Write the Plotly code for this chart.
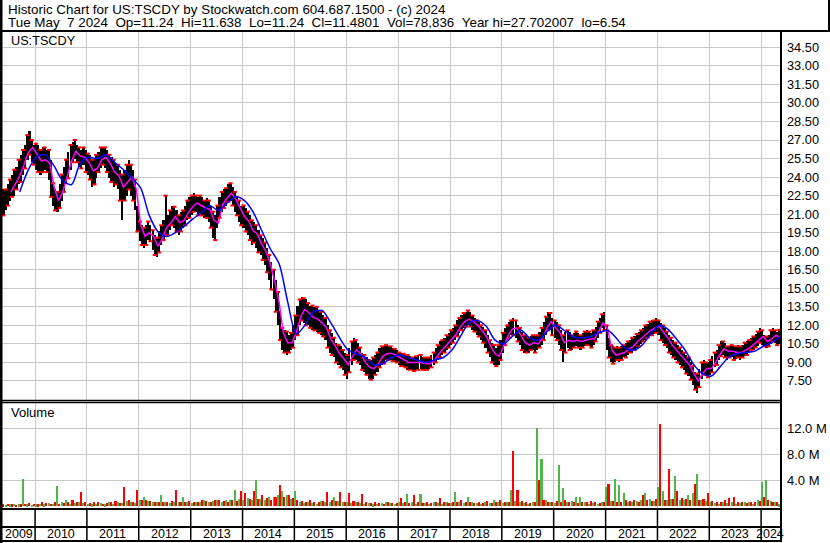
import plotly.graph_objects as go
import pandas as pd

W, H = 830, 543

# ---------------- data ----------------
# half-month high / low bands (2009-05 .. 2024-05)
hi_2009 = [22.5, 23.0, 23.0, 23.4, 23.8, 24.2, 24.6, 24.8, 25.4, 25.8, 26.2, 26.6, 27.4, 27.7, 27.0, 26.6]
lo_2009 = [19.9, 20.9, 21.3, 21.7, 22.1, 22.4, 22.5, 23.0, 23.4, 23.6, 24.2, 24.7, 25.4, 25.8, 25.2, 25.0]
hi_2010 = [26.7, 26.6, 26.2, 26.4, 26.4, 26.2, 26.2, 25.4, 23.5, 23.0, 22.8, 23.4, 24.2, 24.8, 25.4, 26.0, 26.6, 26.8, 27.0, 26.6, 26.4, 26.2, 26.4, 26.2]
lo_2010 = [24.6, 24.4, 24.2, 24.4, 24.6, 24.4, 23.8, 22.4, 21.7, 21.3, 21.2, 21.5, 22.1, 22.8, 23.4, 23.9, 24.6, 25.2, 25.5, 25.2, 24.8, 24.7, 25.0, 24.4]
hi_2011 = [25.9, 25.8, 25.4, 25.5, 25.8, 26.0, 26.4, 26.4, 26.4, 26.2, 25.8, 25.6, 25.4, 25.1, 25.0, 24.6, 24.2, 24.6, 25.0, 25.4, 25.0, 24.6, 23.8, 21.7]
lo_2011 = [24.2, 23.8, 23.2, 23.4, 23.9, 24.4, 24.7, 25.0, 24.7, 24.4, 23.9, 23.6, 23.2, 23.4, 23.0, 22.1, 20.5, 22.1, 22.5, 23.0, 22.5, 22.1, 21.3, 19.6]
hi_2012 = [20.4, 20.1, 19.9, 20.1, 20.4, 20.1, 19.7, 19.3, 19.1, 19.6, 20.1, 20.5, 22.5, 20.9, 21.3, 21.7, 21.6, 21.3, 20.9, 21.2, 21.3, 21.7, 22.1, 22.4]
lo_2012 = [18.8, 18.5, 18.3, 18.5, 18.9, 18.8, 18.1, 17.7, 17.5, 17.9, 18.5, 18.9, 19.3, 19.3, 19.7, 20.1, 19.9, 19.6, 19.3, 19.6, 19.9, 20.1, 20.5, 20.7]
hi_2013 = [22.5, 22.7, 22.5, 22.4, 22.5, 22.4, 22.1, 22.3, 22.1, 21.7, 21.2, 20.9, 21.7, 22.4, 22.8, 23.0, 23.1, 23.4, 23.5, 23.2, 22.8, 22.5, 22.1, 21.7]
lo_2013 = [20.9, 21.2, 21.2, 20.9, 21.1, 20.9, 20.7, 20.7, 20.4, 19.9, 19.1, 18.9, 19.9, 20.7, 21.2, 21.5, 21.7, 22.0, 22.1, 21.7, 21.2, 20.9, 20.4, 20.1]
hi_2014 = [21.7, 21.5, 21.2, 20.9, 20.5, 20.4, 20.1, 19.7, 19.3, 19.1, 18.7, 18.3, 17.7, 17.1, 16.5, 15.7, 14.7, 13.2, 11.8, 11.6, 11.5, 11.2, 11.4, 12.0]
lo_2014 = [19.9, 19.6, 19.3, 18.9, 18.5, 18.7, 18.3, 17.9, 17.7, 17.3, 16.9, 16.3, 15.7, 14.9, 14.1, 13.1, 12.0, 10.8, 10.0, 9.8, 9.6, 9.8, 10.0, 10.2]
hi_2015 = [12.8, 13.6, 14.1, 14.3, 14.2, 14.1, 13.8, 13.6, 13.6, 13.5, 13.5, 13.2, 13.1, 12.8, 12.6, 12.0, 11.6, 11.4, 11.0, 10.6, 10.4, 10.3, 10.0, 9.8]
lo_2015 = [10.8, 11.2, 12.0, 12.4, 12.2, 12.0, 12.0, 11.8, 11.6, 11.6, 11.5, 11.4, 11.2, 11.1, 10.8, 10.2, 9.8, 9.6, 9.4, 9.0, 8.8, 8.6, 8.4, 8.0]
hi_2016 = [9.6, 10.2, 10.7, 11.0, 10.8, 10.6, 10.2, 9.8, 9.6, 9.4, 9.2, 9.2, 9.4, 9.6, 9.8, 10.2, 10.3, 10.3, 10.4, 10.3, 10.3, 10.2, 10.1, 10.0]
lo_2016 = [7.7, 8.2, 8.8, 9.2, 9.2, 9.0, 8.8, 8.4, 8.2, 8.0, 7.7, 7.6, 7.7, 8.0, 8.2, 8.6, 8.8, 8.9, 9.2, 9.2, 9.2, 9.1, 9.0, 9.0]
hi_2017 = [9.8, 9.8, 9.7, 9.6, 9.6, 9.5, 9.4, 9.4, 9.5, 9.6, 9.6, 9.4, 9.4, 9.4, 9.4, 9.6, 9.8, 10.2, 10.4, 10.7, 10.8, 11.0, 11.2, 11.4]
lo_2017 = [8.8, 8.7, 8.6, 8.6, 8.4, 8.4, 8.4, 8.3, 8.4, 8.4, 8.5, 8.4, 8.3, 8.4, 8.5, 8.6, 8.8, 9.0, 9.2, 9.4, 9.6, 9.8, 10.0, 10.2]
hi_2018 = [11.6, 11.8, 12.0, 12.4, 12.6, 12.8, 13.0, 13.1, 13.2, 13.1, 12.8, 12.6, 12.4, 12.3, 12.0, 11.9, 11.6, 11.2, 10.8, 10.6, 10.4, 10.2, 10.4, 10.8]
lo_2018 = [10.4, 10.6, 10.8, 11.1, 11.4, 11.6, 11.8, 11.9, 12.0, 11.9, 11.6, 11.5, 11.2, 11.1, 10.8, 10.6, 10.2, 9.8, 9.4, 9.0, 8.8, 8.7, 8.8, 9.2]
hi_2019 = [11.4, 11.8, 12.0, 12.3, 12.4, 12.6, 12.4, 12.0, 11.8, 11.5, 11.2, 11.1, 11.0, 11.1, 11.2, 11.1, 11.2, 11.5, 11.8, 12.3, 12.7, 13.1, 13.0, 12.6]
lo_2019 = [9.8, 10.4, 10.8, 11.0, 11.2, 11.2, 11.0, 10.7, 10.4, 10.0, 9.8, 9.8, 9.8, 10.0, 10.0, 9.8, 10.0, 10.2, 10.4, 10.8, 11.2, 11.6, 11.6, 11.2]
hi_2020 = [12.4, 12.3, 12.0, 11.6, 11.2, 11.5, 11.6, 11.5, 11.2, 11.4, 11.5, 11.4, 11.2, 11.4, 11.5, 11.6, 11.5, 11.4, 11.6, 11.9, 12.3, 12.6, 12.9, 13.1]
lo_2020 = [11.0, 10.8, 10.4, 10.0, 9.0, 9.8, 10.2, 10.0, 10.0, 10.2, 10.3, 10.2, 10.0, 10.2, 10.3, 10.4, 10.3, 10.2, 10.4, 10.7, 11.0, 11.4, 11.8, 11.6]
hi_2021 = [12.0, 11.0, 10.4, 10.3, 10.2, 10.3, 10.2, 10.3, 10.4, 10.6, 10.7, 10.8, 11.0, 11.1, 11.3, 11.5, 11.6, 11.8, 12.0, 12.1, 12.3, 12.4, 12.4, 12.6]
lo_2021 = [10.0, 9.4, 9.0, 8.9, 9.0, 9.2, 9.0, 9.2, 9.4, 9.4, 9.6, 9.8, 9.8, 10.0, 10.2, 10.3, 10.5, 10.7, 10.8, 11.0, 11.1, 11.2, 11.3, 11.4]
hi_2022 = [12.4, 12.2, 12.0, 11.8, 11.5, 11.2, 11.0, 10.8, 10.6, 10.4, 10.2, 10.0, 9.8, 9.6, 9.4, 9.0, 8.7, 8.2, 8.1, 8.5, 9.0, 9.2, 9.0, 9.0]
lo_2022 = [11.2, 10.8, 10.6, 10.4, 10.2, 9.8, 9.6, 9.4, 9.2, 9.0, 8.8, 8.6, 8.4, 8.1, 7.9, 7.6, 7.2, 6.8, 6.54, 7.0, 7.7, 8.0, 7.9, 7.8]
hi_2023 = [9.2, 9.5, 9.8, 10.0, 10.4, 10.7, 10.7, 10.6, 10.3, 10.3, 10.4, 10.3, 10.3, 10.4, 10.3, 10.4, 10.6, 10.7, 10.8, 11.0, 11.1, 11.3, 11.5, 11.8]
lo_2023 = [8.0, 8.2, 8.6, 8.8, 9.2, 9.5, 9.6, 9.4, 9.2, 9.4, 9.4, 9.2, 9.3, 9.4, 9.2, 9.4, 9.5, 9.6, 9.8, 10.0, 10.0, 10.2, 10.3, 10.6]
hi_2024 = [11.6, 11.2, 11.1, 11.2, 11.6, 11.8, 11.6, 11.5, 11.64]
lo_2024 = [10.4, 10.3, 10.2, 10.3, 10.5, 10.7, 10.6, 10.4, 10.5]

hi = (hi_2009 + hi_2010 + hi_2011 + hi_2012 + hi_2013 + hi_2014 + hi_2015 + hi_2016
      + hi_2017 + hi_2018 + hi_2019 + hi_2020 + hi_2021 + hi_2022 + hi_2023 + hi_2024)
lo = (lo_2009 + lo_2010 + lo_2011 + lo_2012 + lo_2013 + lo_2014 + lo_2015 + lo_2016
      + lo_2017 + lo_2018 + lo_2019 + lo_2020 + lo_2021 + lo_2022 + lo_2023 + lo_2024)

# fast (magenta) moving average, monthly from 2009-07
ma_fast = [22.8, 23.4, 24.1, 25.0, 26.0, 26.4,
           25.8, 25.3, 25.4, 25.1, 23.2, 22.1, 22.8, 24.1, 25.3, 26.1, 25.7, 25.6,
           25.2, 24.5, 24.7, 25.4, 25.6, 25.1, 24.4, 24.1, 23.2, 23.6, 24.0, 23.0,
           20.1, 19.2, 19.5, 19.2, 18.4, 19.0, 19.9, 20.3, 20.8, 20.3, 20.5, 21.1,
           21.6, 21.9, 21.7, 21.5, 21.4, 20.5, 20.3, 21.8, 22.3, 22.7, 22.2, 21.5,
           20.8, 20.4, 19.7, 19.4, 18.6, 18.0, 17.0, 15.6, 13.9, 11.4, 10.6, 10.6,
           11.4, 12.7, 13.3, 13.0, 12.65, 12.5, 12.2, 11.8, 10.9, 10.35, 9.7, 9.3,
           8.8, 9.5, 10.05, 9.65, 9.0, 8.6, 8.5, 8.9, 9.5, 9.7, 9.75, 9.6,
           9.4, 9.2, 9.0, 9.0, 9.0, 9.0, 8.9, 8.9, 9.2, 9.7, 10.1, 10.5,
           10.9, 11.3, 11.9, 12.3, 12.5, 12.3, 12.0, 11.5, 11.1, 10.3, 9.7, 9.5,
           10.3, 11.2, 11.7, 11.8, 11.2, 10.6, 10.4, 10.6, 10.5, 11.0, 11.8, 12.3,
           11.8, 11.4, 10.6, 10.8, 10.7, 10.8, 10.7, 10.8, 10.9, 10.9, 11.5, 12.2,
           11.7, 10.0, 9.6, 9.7, 9.8, 10.1, 10.3, 10.7, 11.0, 11.3, 11.6, 11.8,
           11.9, 11.4, 11.0, 10.4, 10.0, 9.6, 9.2, 8.8, 8.1, 7.5, 8.1, 8.5,
           8.5, 9.0, 9.6, 10.1, 9.9, 9.9, 9.8, 9.8, 10.0, 10.2, 10.5, 10.8,
           11.1, 10.7, 10.9, 11.2, 11.0]

# slow (blue) moving average, every second month from 2009-09
ma_slow = [22.8, 24.6, 25.7, 25.8, 24.9, 23.7, 23.4, 25.1, 25.6, 25.5,
           25.8, 25.2, 24.6, 23.9, 23.1, 20.9, 19.6, 19.2, 19.5, 20.0,
           20.6, 21.1, 21.7, 21.3, 21.9, 22.4, 22.1, 21.2, 19.7, 18.2,
           17.0, 13.9, 11.3, 12.0, 13.1, 13.2, 12.2, 11.0, 10.0, 9.7,
           9.4, 8.8, 8.9, 9.4, 9.6, 9.4, 9.2, 9.0, 9.2, 9.4,
           10.0, 11.1, 12.2, 12.4, 11.9, 10.8, 10.5, 11.1, 11.6, 11.0,
           10.8, 11.5, 12.0, 11.6, 11.1, 11.0, 11.1, 11.4, 11.6, 11.0,
           10.2, 10.0, 10.4, 11.3, 12.0, 11.7, 10.9, 10.0, 8.8, 8.1,
           7.9, 8.6, 9.4, 9.7, 9.8, 9.9, 10.3, 10.6, 11.1]

# monthly volume (millions): green = up-day bars, red = down-day bars
vol_up = [0.3, 0.2, 0.3, 0.4, 0.3, 4.2, 0.3, 0.2,
          0.3, 0.4, 0.3, 0.5, 0.4, 3.1, 0.6, 0.9, 0.4, 0.5, 0.6, 0.5,
          0.4, 0.3, 0.4, 0.5, 0.3, 0.6, 0.4, 0.7, 0.5, 0.8, 0.6, 0.5,
          0.9, 1.5, 0.8, 0.7, 0.6, 1.7, 0.6, 0.5, 0.7, 0.6, 1.5, 0.6,
          0.5, 0.6, 0.7, 0.9, 0.6, 0.8, 0.9, 0.7, 1.0, 0.9, 2.5, 1.1,
          0.9, 1.3, 1.0, 4.0, 1.2, 1.0, 1.4, 1.5, 1.8, 2.3, 1.7, 1.2,
          2.3, 0.7, 0.5, 0.6, 0.5, 0.4, 0.8, 0.6, 0.7, 1.4, 0.8, 0.6,
          0.6, 0.5, 0.7, 0.5, 0.4, 0.5, 0.3, 0.4, 0.5, 0.6, 0.5, 0.4,
          0.6, 0.5, 1.9, 0.6, 0.4, 1.9, 0.5, 0.4, 0.6, 0.5, 0.4, 0.6,
          0.5, 2.2, 0.6, 0.5, 1.5, 0.6, 0.5, 0.4, 0.6, 0.5, 1.0, 0.6,
          0.5, 0.6, 2.5, 0.8, 0.6, 0.5, 0.4, 0.6, 12.0, 7.3, 0.9, 0.6,
          0.5, 6.3, 2.8, 0.6, 0.8, 1.5, 1.5, 0.6, 0.4, 0.5, 0.4, 0.6,
          3.0, 0.8, 4.2, 3.3, 2.0, 0.7, 0.6, 0.8, 0.9, 2.0, 1.1, 0.8,
          2.9, 2.4, 0.9, 1.2, 4.7, 1.0, 0.9, 1.8, 2.0, 4.9, 1.0, 0.8,
          0.6, 0.5, 0.4, 0.6, 0.5, 0.6, 0.4, 0.5, 0.6, 0.6, 0.4, 1.0,
          3.8, 4.1, 0.8, 0.6, 0.3]
vol_dn = [0.3, 0.4, 0.3, 0.2, 0.3, 0.4, 0.5, 0.4,
          0.3, 0.7, 0.5, 0.4, 0.6, 0.4, 0.5, 0.7, 1.0, 0.6, 2.2, 0.7,
          0.5, 0.6, 0.7, 0.4, 0.5, 0.6, 0.8, 0.5, 3.0, 0.9, 0.7, 2.5,
          1.0, 0.9, 0.8, 0.7, 0.6, 0.6, 0.7, 0.8, 2.5, 0.6, 0.7, 0.8,
          0.7, 0.6, 0.9, 0.8, 0.6, 0.9, 1.0, 0.8, 0.7, 0.9, 0.8, 2.3,
          2.0, 1.2, 2.3, 1.1, 1.7, 1.3, 1.0, 1.5, 3.3, 1.4, 1.7, 1.3,
          0.9, 0.8, 0.6, 0.9, 0.7, 0.6, 0.8, 2.2, 0.9, 0.8, 2.2, 0.7,
          2.0, 0.8, 0.6, 1.9, 0.7, 0.5, 0.6, 0.5, 0.4, 0.6, 0.5, 0.5,
          1.3, 0.6, 0.5, 1.7, 0.6, 0.5, 0.6, 0.5, 0.7, 1.3, 0.6, 0.5,
          0.6, 0.7, 0.9, 0.6, 0.7, 0.5, 0.6, 0.5, 0.8, 0.5, 0.6, 0.9,
          0.6, 0.7, 8.5, 2.5, 0.8, 0.6, 0.5, 0.7, 4.0, 0.9, 0.7, 0.6,
          0.8, 0.6, 1.0, 0.7, 0.6, 0.5, 0.6, 0.7, 0.8, 0.6, 0.5, 0.7,
          3.4, 0.8, 0.7, 0.6, 1.0, 0.8, 0.9, 0.7, 1.8, 0.9, 0.8, 1.2,
          12.7, 1.0, 5.7, 1.2, 2.4, 1.3, 1.1, 0.9, 3.4, 1.0, 1.2, 2.0,
          0.8, 0.7, 0.6, 0.9, 1.3, 1.5, 0.7, 0.6, 0.5, 0.6, 0.7, 0.8,
          1.5, 0.9, 0.7, 0.6, 0.4]

years = list(range(2010, 2025))
price_ticks = [7.5 + 1.5 * i for i in range(19)]
vol_ticks = [4, 8, 12]
vol_ticktext = ["4.0 M", "8.0 M", "12.0 M"]

header1 = "Historic Chart for US:TSCDY by Stockwatch.com 604.687.1500 - (c) 2024"
header2 = "Tue May\u00a0\u00a07 2024\u00a0\u00a0Op=11.24\u00a0\u00a0Hi=11.638\u00a0\u00a0Lo=11.24\u00a0\u00a0Cl=11.4801\u00a0\u00a0Vol=78,836\u00a0\u00a0Year hi=27.702007\u00a0\u00a0lo=6.54"

# ---------------- dates ----------------
months = pd.date_range("2009-05-01", "2024-05-01", freq="MS")
half_months = []
for m in months:
    half_months += [m + pd.Timedelta(days=7), m + pd.Timedelta(days=22)]
half_months = half_months[:len(hi)]
mid_months = months + pd.Timedelta(days=14)
fast_dates = mid_months[2:]
slow_dates = mid_months[4::2]

# ---------------- layout helpers ----------------
def px_x(x):
    return x / W

def px_y(y):
    return 1 - y / H

DAY = 86400000
x_start = pd.Timestamp("2009-05-13")
x_end = pd.Timestamp("2024-05-20")
FONT = "Liberation Sans, Arial, sans-serif"
GRID = "#c8c8c8"

red_marks = [h if k % 2 == 0 else l for k, (h, l) in enumerate(zip(hi, lo))]

fig = go.Figure()
fig.add_trace(go.Bar(x=half_months, y=[h - l for h, l in zip(hi, lo)], base=lo,
                     marker=dict(color="black", line=dict(width=0)),
                     width=15.2 * DAY, xaxis="x", yaxis="y", showlegend=False, hoverinfo="skip"))
fig.add_trace(go.Scatter(x=half_months, y=red_marks, mode="markers",
                         marker=dict(symbol="line-ew", size=3, line=dict(color="red", width=2)),
                         xaxis="x", yaxis="y", showlegend=False, hoverinfo="skip"))
fig.add_trace(go.Scatter(x=fast_dates, y=ma_fast, mode="lines",
                         line=dict(color="#ff00ff", width=1.5),
                         xaxis="x", yaxis="y", showlegend=False, hoverinfo="skip"))
fig.add_trace(go.Scatter(x=slow_dates, y=ma_slow, mode="lines",
                         line=dict(color="#0000ff", width=1.5, shape="spline", smoothing=0.8),
                         xaxis="x", yaxis="y", showlegend=False, hoverinfo="skip"))
fig.add_trace(go.Bar(x=months + pd.Timedelta(days=8), y=vol_up,
                     marker=dict(color="#4db848", line=dict(width=0)),
                     width=11 * DAY, xaxis="x2", yaxis="y2", showlegend=False, hoverinfo="skip"))
fig.add_trace(go.Bar(x=months + pd.Timedelta(days=22), y=vol_dn,
                     marker=dict(color="#ff0000", line=dict(width=0)),
                     width=11 * DAY, xaxis="x2", yaxis="y2", showlegend=False, hoverinfo="skip"))

year_starts = [pd.Timestamp(f"{y}-01-01") for y in years]

fig.update_layout(
    width=W, height=H, margin=dict(l=0, r=0, t=0, b=0),
    paper_bgcolor="white", plot_bgcolor="white",
    font=dict(family=FONT, size=12.5, color="black"),
    bargap=0, barmode="overlay",
    xaxis=dict(domain=[px_x(2), px_x(781)], range=[x_start, x_end], type="date",
               tickvals=year_starts, showticklabels=False, showgrid=True, gridcolor=GRID,
               gridwidth=1, zeroline=False, showline=False, ticks="", anchor="y"),
    yaxis=dict(domain=[px_y(400), px_y(32)], range=[5.96, 35.74], side="right",
               tickvals=price_ticks, tickformat=".2f", showgrid=True, gridcolor=GRID,
               zeroline=False, showline=False, ticks="", ticklabelstandoff=5,
               tickfont=dict(size=12.8), anchor="x"),
    xaxis2=dict(domain=[px_x(2), px_x(781)], range=[x_start, x_end], type="date", matches="x",
                tickvals=year_starts, showticklabels=False, showgrid=True, gridcolor=GRID,
                zeroline=False, showline=False, ticks="", anchor="y2"),
    yaxis2=dict(domain=[px_y(509), px_y(402)], range=[-0.415, 16.05], side="right",
                tickvals=vol_ticks, ticktext=vol_ticktext, showgrid=True, gridcolor=GRID,
                zeroline=False, showline=False, ticks="", ticklabelstandoff=5,
                tickfont=dict(size=13), anchor="x2"),
)

shapes = []
def hline(y, x0=0, x1=781, w=2):
    shapes.append(dict(type="line", xref="paper", yref="paper", x0=px_x(x0), x1=px_x(x1),
                       y0=px_y(y), y1=px_y(y), line=dict(color="black", width=w)))
def vline(x, y0, y1, w=2):
    shapes.append(dict(type="line", xref="paper", yref="paper", x0=px_x(x), x1=px_x(x),
                       y0=px_y(y0), y1=px_y(y1), line=dict(color="black", width=w)))

hline(31, 0, 830)
vline(829, 0, 31)
vline(1, 0, 543, 3)
vline(781, 31, 542)
hline(400.5, w=1.5)
hline(402.5, w=1.5)
hline(509)
hline(527)
hline(541)
for ys in year_starts:
    shapes.append(dict(type="line", xref="x", yref="paper", x0=ys, x1=ys,
                       y0=px_y(509), y1=px_y(541), line=dict(color="black", width=1.5)))
fig.update_layout(shapes=shapes)

ann = []
ann.append(dict(text=header1, xref="paper", yref="paper", x=px_x(6), y=px_y(9.5),
                xanchor="left", yanchor="middle", showarrow=False, font=dict(size=13.4)))
ann.append(dict(text=header2, xref="paper", yref="paper", x=px_x(6), y=px_y(22.8),
                xanchor="left", yanchor="middle", showarrow=False, font=dict(size=13.4)))
ann.append(dict(text="US:TSCDY", xref="paper", yref="paper", x=px_x(9), y=px_y(41),
                xanchor="left", yanchor="middle", showarrow=False, font=dict(size=12.7)))
ann.append(dict(text="Volume", xref="paper", yref="paper", x=px_x(9), y=px_y(413),
                xanchor="left", yanchor="middle", showarrow=False, font=dict(size=13)))
bounds = [x_start] + year_starts + [pd.Timestamp("2024-05-09")]
for i, y in enumerate([2009] + years):
    a, b = bounds[i], bounds[i + 1]
    ann.append(dict(text=str(y), xref="x", yref="paper", x=a + (b - a) / 2, y=px_y(534),
                    xanchor="center", yanchor="middle", showarrow=False, font=dict(size=12.5)))
fig.update_layout(annotations=ann)

fig.write_html("out.html", config={"displayModeBar": False},
               post_script="document.body.style.margin='0';document.body.style.overflow='hidden';")
